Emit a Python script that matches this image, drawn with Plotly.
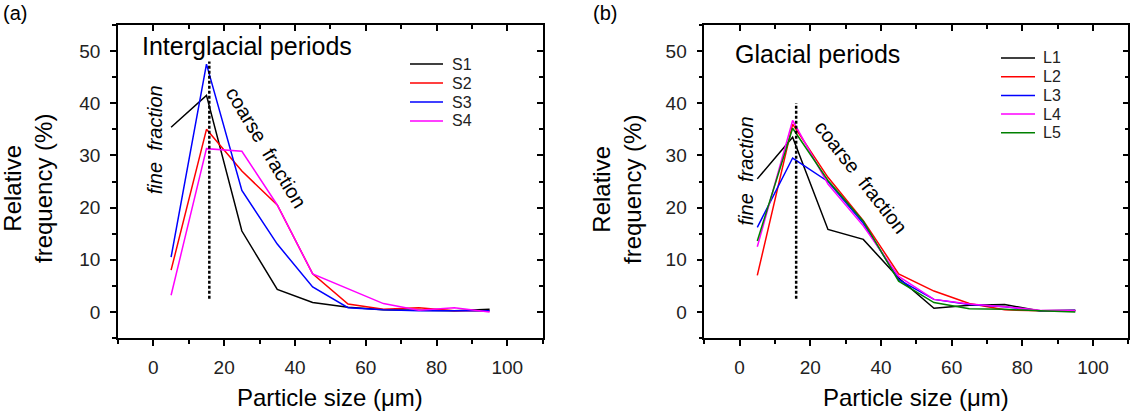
import plotly.graph_objects as go

# ---------------- data ----------------
size_um = [5, 15, 25, 35, 45, 55, 65, 75, 85, 95]

S1 = [35.4, 41.5, 15.5, 4.3, 1.8, 0.9, 0.4, 0.3, 0.2, 0.5]
S2 = [8.0, 35.0, 27.0, 20.5, 7.3, 1.5, 0.5, 0.8, 0.2, 0.2]
S3 = [10.5, 47.5, 23.3, 13.0, 4.8, 0.8, 0.4, 0.2, 0.2, 0.2]
S4 = [3.2, 31.3, 30.8, 20.5, 7.3, 4.4, 1.6, 0.3, 0.8, 0.0]

L1 = [25.5, 33.5, 15.8, 13.9, 6.5, 0.7, 1.3, 1.4, 0.2, 0.2]
L2 = [7.0, 36.0, 25.8, 17.5, 7.3, 4.0, 1.6, 0.4, 0.2, 0.3]
L3 = [16.2, 29.5, 25.0, 17.0, 6.2, 2.4, 1.4, 1.0, 0.2, 0.3]
L4 = [12.5, 36.7, 24.5, 16.5, 6.8, 2.4, 1.5, 1.0, 0.3, 0.2]
L5 = [13.6, 35.2, 25.2, 17.4, 5.9, 1.8, 0.6, 0.5, 0.2, 0.0]

names_a = ["S1", "S2", "S3", "S4"]
names_b = ["L1", "L2", "L3", "L4", "L5"]
series_a = [S1, S2, S3, S4]
series_b = [L1, L2, L3, L4, L5]

divider_x_a = [15.8, 15.8]
divider_y_a = [2.5, 48.0]
divider_x_b = [16.0, 16.0]
divider_y_b = [2.5, 40.0]

x_ticks = [0, 20, 40, 60, 80, 100]
y_ticks = [0, 10, 20, 30, 40, 50]

# ---------------- styling ----------------
W, H = 1133, 414
FONT = "Liberation Sans, Arial, sans-serif"
colors_a = ["#000000", "#ff0000", "#0000ff", "#ff00ff"]
colors_b = ["#000000", "#ff0000", "#0000ff", "#ff00ff", "#008000"]

def px_x(p):
    return p / W

def px_y(p):
    return 1 - p / H

dom_a = [px_x(118), px_x(542.7)]
dom_b = [px_x(704.3), px_x(1128.3)]
dom_y = [px_y(338), px_y(25)]

fig = go.Figure()

for nm, ys, c in zip(names_a, series_a, colors_a):
    fig.add_trace(go.Scatter(x=size_um, y=ys, name=nm, mode="lines",
                             line=dict(color=c, width=1.5),
                             xaxis="x", yaxis="y", showlegend=False))
fig.add_trace(go.Scatter(x=divider_x_a, y=divider_y_a, mode="lines", showlegend=False,
                         line=dict(color="black", width=2.5, dash="3px,2px"),
                         xaxis="x", yaxis="y"))

for nm, ys, c in zip(names_b, series_b, colors_b):
    fig.add_trace(go.Scatter(x=size_um, y=ys, name=nm, mode="lines",
                             line=dict(color=c, width=1.5),
                             xaxis="x2", yaxis="y2", showlegend=False))
fig.add_trace(go.Scatter(x=divider_x_b, y=divider_y_b, mode="lines", showlegend=False,
                         line=dict(color="black", width=2.5, dash="3px,2px"),
                         xaxis="x2", yaxis="y2"))

# invisible traces to realise the mirrored (inside-tick) axes
for xa, ya in [("x3", "y3"), ("x4", "y4")]:
    fig.add_trace(go.Scatter(x=[None], y=[None], xaxis=xa, yaxis=ya,
                             showlegend=False, hoverinfo="skip"))

axis_common = dict(showline=True, linecolor="black", linewidth=1.5,
                   showgrid=False, zeroline=False, ticklen=6, tickwidth=1.5,
                   tickcolor="black",
                   tickfont=dict(family=FONT, size=19, color="#222"))

xr = [-10, 110]
yr = [-5, 55]

def xax(domain, anchor):
    return dict(axis_common, domain=domain, anchor=anchor, range=xr,
                tickvals=x_ticks, ticks="outside", ticklabelstandoff=5,
                minor=dict(dtick=10, tick0=0, ticklen=4, tickwidth=1.5,
                           tickcolor="black", ticks="outside"))

def yax(anchor):
    return dict(axis_common, domain=dom_y, anchor=anchor, range=yr,
                tickvals=y_ticks, ticks="outside", ticklabelstandoff=6,
                minor=dict(dtick=5, tick0=0, ticklen=4, tickwidth=1.5,
                           tickcolor="black", ticks="outside"))

def xtop(over, anchor, domain):
    return dict(axis_common, domain=domain, overlaying=over, anchor=anchor,
                side="top", range=xr, tickvals=x_ticks, ticks="inside",
                showticklabels=False,
                minor=dict(dtick=10, tick0=0, ticklen=4, tickwidth=1.5,
                           tickcolor="black", ticks="inside"))

def yright(over, anchor):
    return dict(axis_common, domain=dom_y, overlaying=over, anchor=anchor,
                side="right", range=yr, tickvals=y_ticks, ticks="inside",
                showticklabels=False,
                minor=dict(dtick=5, tick0=0, ticklen=4, tickwidth=1.5,
                           tickcolor="black", ticks="inside"))

fig.update_layout(
    width=W, height=H,
    margin=dict(l=0, r=0, t=0, b=0),
    paper_bgcolor="white", plot_bgcolor="white",
    font=dict(family=FONT, color="black"),
    xaxis=xax(dom_a, "y"),
    yaxis=yax("x"),
    xaxis2=xax(dom_b, "y2"),
    yaxis2=yax("x2"),
    xaxis3=xtop("x", "y", dom_a),
    yaxis3=yright("y", "x"),
    xaxis4=xtop("x2", "y2", dom_b),
    yaxis4=yright("y2", "x2"),
    showlegend=False,
)

ann = []
shapes = []

# manual legends (swatch line + label)
def add_legend(names, colors, x0, x1, xt, y_first, step):
    for i, (nm, c) in enumerate(zip(names, colors)):
        yy = y_first + i * step
        shapes.append(dict(type="line", xref="paper", yref="paper",
                           x0=px_x(x0), x1=px_x(x1), y0=px_y(yy), y1=px_y(yy),
                           line=dict(color=c, width=1.5)))
        ann.append(dict(text=nm, x=px_x(xt), y=px_y(yy), xref="paper", yref="paper",
                        xanchor="left", yanchor="middle", showarrow=False,
                        font=dict(size=16, color="#222")))

add_legend(names_a, colors_a, 410, 443, 450, 64, 19)
add_legend(names_b, colors_b, 1001, 1035, 1041, 58, 18.7)

# panel labels
ann.append(dict(text="(a)", x=px_x(1), y=px_y(13), xref="paper", yref="paper",
                xanchor="left", yanchor="middle", showarrow=False,
                font=dict(size=20)))
ann.append(dict(text="(b)", x=px_x(591), y=px_y(13), xref="paper", yref="paper",
                xanchor="left", yanchor="middle", showarrow=False,
                font=dict(size=20)))
# y titles
ann.append(dict(text="Relative<br>frequency (%)", x=px_x(28), y=px_y(189),
                xref="paper", yref="paper", textangle=-90, showarrow=False,
                xanchor="center", yanchor="middle", font=dict(size=24)))
ann.append(dict(text="Relative<br>frequency (%)", x=px_x(617), y=px_y(190),
                xref="paper", yref="paper", textangle=-90, showarrow=False,
                xanchor="center", yanchor="middle", font=dict(size=24)))
# x titles
ann.append(dict(text="Particle size (μm)", x=(dom_a[0] + dom_a[1]) / 2, y=px_y(397),
                xref="paper", yref="paper", showarrow=False,
                xanchor="center", yanchor="middle", font=dict(size=24)))
ann.append(dict(text="Particle size (μm)", x=(dom_b[0] + dom_b[1]) / 2, y=px_y(397),
                xref="paper", yref="paper", showarrow=False,
                xanchor="center", yanchor="middle", font=dict(size=24)))
# in-panel texts
ann.append(dict(text="Interglacial periods", x=-3.8, y=51.0, xref="x", yref="y",
                xanchor="left", yanchor="middle", showarrow=False,
                font=dict(size=25)))
ann.append(dict(text="Glacial periods", x=-2.0, y=49.4, xref="x2", yref="y2",
                xanchor="left", yanchor="middle", showarrow=False,
                font=dict(size=25)))
ann.append(dict(text="<i>fine  fraction</i>", x=0.3, y=33.0, xref="x", yref="y",
                textangle=-90, showarrow=False, xanchor="center", yanchor="middle",
                font=dict(size=20)))
ann.append(dict(text="<i>fine  fraction</i>", x=1.9, y=27.0, xref="x2", yref="y2",
                textangle=-90, showarrow=False, xanchor="center", yanchor="middle",
                font=dict(size=20)))
ann.append(dict(text="coarse  fraction", x=32.0, y=31.5, xref="x", yref="y",
                textangle=59, showarrow=False, xanchor="center", yanchor="middle",
                font=dict(size=20)))
ann.append(dict(text="coarse  fraction", x=34.4, y=25.9, xref="x2", yref="y2",
                textangle=52, showarrow=False, xanchor="center", yanchor="middle",
                font=dict(size=20)))
fig.update_layout(annotations=ann, shapes=shapes)

fig.write_html("out.html", config={"displayModeBar": False},
               post_script="document.body.style.margin='0px';")
